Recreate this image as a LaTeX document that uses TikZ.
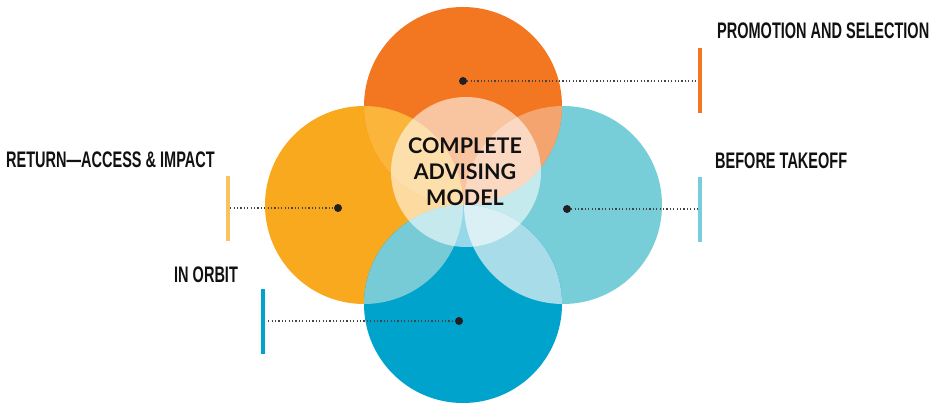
\documentclass[tikz,border=0pt]{standalone}
\usepackage{fontspec}
\setmainfont{Liberation Sans}
\newfontfamily\labfont[FakeStretch=0.645]{Liberation Sans}
\newfontfamily\ctrfont{Lato}
\definecolor{cOr}{HTML}{F37621}
\definecolor{cYe}{HTML}{F9A91D}
\definecolor{cTe}{HTML}{77CDD8}
\definecolor{cBl}{HTML}{00A3CC}
\definecolor{cOY}{HTML}{FBB53B}
\definecolor{cOT}{HTML}{F4A46F}
\definecolor{cYB}{HTML}{77CBD6}
\definecolor{cTB}{HTML}{A7DCE8}
\definecolor{cYbar}{HTML}{FBC260}
\definecolor{cInk}{HTML}{111111}
\definecolor{cDot}{HTML}{231F20}
\definecolor{cLine}{HTML}{444444}
\tikzset{
  lab/.style={font=\labfont\bfseries\fontsize{22.5}{24}\selectfont, inner sep=0pt, text=cInk, anchor=base west},
  ctr/.style={font=\ctrfont\bfseries\fontsize{21.5}{26}\selectfont, align=center, inner sep=0pt, text=cInk},
  dotn/.style={circle, fill=cDot, inner sep=0pt, minimum size=8pt},
  bar/.style={rectangle, inner sep=0pt, minimum width=4pt, minimum height=65pt},
  dotline/.style={draw=cLine, line width=1.2pt, dash pattern=on 1.2pt off 2.2pt}
}
\begin{document}
\begin{tikzpicture}[x=1pt,y=-1pt]
\useasboundingbox (0,0) rectangle (938,404);
\coordinate (cO) at (463,106);
\coordinate (cY) at (364,205);
\coordinate (cT) at (563,205);
\coordinate (cB) at (463,304);
\coordinate (cC) at (466,172);
% circles
\fill[cYe] (cY) circle[radius=99pt];
\fill[cTe] (cT) circle[radius=99pt];
\fill[cOr] (cO) circle[radius=99pt];
\fill[cBl] (cB) circle[radius=99pt];
% overlaps
\begin{scope}\clip (cO) circle[radius=99pt]; \fill[cOY] (cY) circle[radius=99pt]; \end{scope}
\begin{scope}\clip (cO) circle[radius=99pt]; \fill[cOT] (cT) circle[radius=99pt]; \end{scope}
\begin{scope}\clip (cB) circle[radius=99pt]; \fill[cYB] (cY) circle[radius=99pt]; \end{scope}
\begin{scope}\clip (cB) circle[radius=99pt]; \fill[cTB] (cT) circle[radius=99pt]; \end{scope}
% centre
\fill[white, fill opacity=0.58] (cC) circle[radius=75pt];
\node[ctr] (mid) at (465,172) {COMPLETE\\ADVISING\\MODEL};
% dots and bars
\node[dotn] (dO) at (463,81) {};
\node[dotn] (dY) at (338,208) {};
\node[dotn] (dT) at (567,209) {};
\node[dotn] (dB) at (459,321) {};
\node[bar, fill=cOr] (bO) at (700,81) {};
\node[bar, fill=cTe] (bT) at (700,209) {};
\node[bar, fill=cYbar] (bY) at (228,208) {};
\node[bar, fill=cBl] (bB) at (263,321) {};
\draw[dotline] (dO) -- (bO);
\draw[dotline] (dT) -- (bT);
\draw[dotline] (bY) -- (dY);
\draw[dotline, shorten <=3pt] (bB) -- (dB);
% labels
\node[lab] (lP) at (717,39) {PROMOTION AND SELECTION};
\node[lab] (lT) at (715,168) {BEFORE TAKEOFF};
\node[lab] (lR) at (6,167) {RETURN—ACCESS \& IMPACT};
\node[lab] (lI) at (174,282) {IN ORBIT};
\end{tikzpicture}
\end{document}
